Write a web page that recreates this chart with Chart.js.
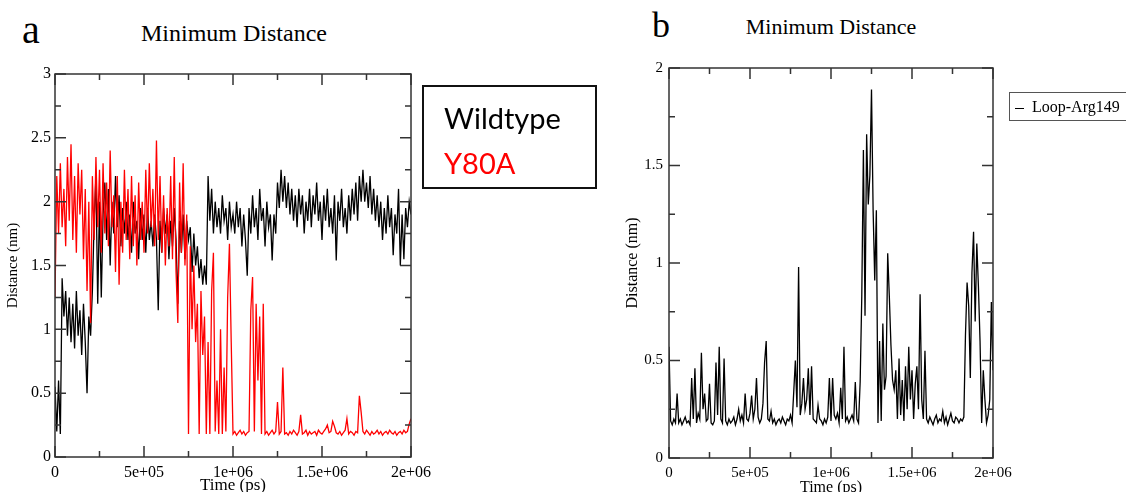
<!DOCTYPE html>
<html lang="en">
<head>
<meta charset="UTF-8" />
<title>Minimum Distance</title>
<script src="https://cdn.jsdelivr.net/npm/chart.js"></script>
<style>
  body { margin: 0; width: 1126px; height: 492px; background: #fff; position: relative; overflow: hidden;
         font-family: "Liberation Serif", "Times New Roman", serif; color: #000; }
  canvas { position: absolute; top: 0; }
  #chartA { left: 0; }
  #chartB { left: 610px; }
  .letter { position: absolute; line-height: 1; }
  .title { position: absolute; line-height: 1; white-space: nowrap; transform: translate(-50%, -50%); }
  #legendA { position: absolute; left: 422px; top: 85px; width: 171px; height: 100px; border: 2px solid #111;
             font-family: Lato, "Open Sans", sans-serif; font-size: 29px; line-height: 1; }
  #legendA div { position: absolute; left: 20px; }
  #legendB { position: absolute; left: 1009px; top: 92px; width: 150px; height: 27px; border: 1px solid #555;
             font-size: 16px; line-height: 27px; white-space: nowrap; }
  #legendB .dash { display: inline-block; width: 9px; border-top: 1px solid #000; vertical-align: middle; margin: 0 8px 0 5px; }
</style>
</head>
<body>
  <div class="letter" style="left:22px; top:10px; font-size:40px;">a</div>
  <div class="title" style="left:234px; top:33px; font-size:24px;">Minimum Distance</div>
  <div class="letter" style="left:652px; top:7px; font-size:36px;">b</div>
  <div class="title" style="left:831px; top:27px; font-size:22px;">Minimum Distance</div>

  <canvas id="chartA" width="440" height="492"></canvas>
  <canvas id="chartB" width="410" height="492"></canvas>

  <div id="legendA">
    <div style="top:16px;">Wildtype</div>
    <div style="top:61px; color:#ff0000;">Y80A</div>
  </div>
  <div id="legendB"><span class="dash"></span>Loop-Arg149</div>

<script>
// sampling grid of the trajectories (ps between frames)
const sampleStepPs = 10000;

// panel a: Wildtype (black) and Y80A (red), minimum distance in nm
const wildtype = [
  0.55, 0.2, 0.6, 0.18, 1.4, 1.1, 1.3, 0.95, 1.25, 0.9,
  1.2, 0.85, 1.3, 0.95, 1.15, 0.8, 1.2, 0.9, 0.5, 1.1,
  0.95, 1.3, 1.85, 2.2, 1.2, 2.0, 1.25, 1.9, 2.15, 1.7,
  2.1, 1.5, 2.0, 1.75, 2.2, 1.8, 2.05, 1.65, 1.95, 1.75,
  2.0, 1.7, 1.9, 1.6, 2.0, 1.75, 1.85, 1.55, 1.95, 1.7,
  1.9, 1.6, 1.95, 1.7, 1.85, 1.65, 1.9, 1.7, 1.15, 1.85,
  1.6, 1.95, 1.75, 1.9, 1.55, 1.85, 1.65, 1.95, 1.7, 1.2,
  1.85, 1.6, 1.9, 1.55, 1.85, 1.7, 1.8, 1.45, 1.75, 1.5,
  1.65, 1.4, 1.55, 1.35, 1.5, 1.35, 2.2, 1.85, 2.1, 1.75,
  2.0, 1.8, 1.95, 1.75, 2.05, 1.85, 1.95, 1.7, 2.0, 1.8,
  1.9, 1.75, 2.0, 1.8, 1.95, 1.65, 1.9, 1.7, 1.42, 1.95,
  1.75, 2.05, 1.8, 1.95, 1.7, 2.1, 1.85, 1.95, 1.65, 2.0,
  1.8, 1.9, 1.54, 1.9, 1.75, 2.15, 1.95, 2.25, 2.0, 2.2,
  1.95, 2.15, 1.9, 2.1, 1.85, 2.05, 1.8, 2.1, 1.9, 2.05,
  1.75, 2.0, 1.85, 2.1, 1.8, 2.05, 1.9, 2.15, 1.85, 2.0,
  1.7, 2.05, 1.85, 2.1, 1.8, 1.95, 1.75, 2.05, 1.54, 2.0,
  1.85, 2.1, 1.8, 1.95, 1.75, 2.05, 1.85, 2.1, 1.9, 2.15,
  1.85, 2.2, 2.0, 2.25, 2.0, 2.15, 1.95, 2.2, 1.9, 2.1,
  1.85, 2.05, 1.8, 2.0, 1.7, 1.95, 1.75, 2.05, 1.8, 1.95,
  1.58, 1.9, 1.75, 2.1, 1.5, 1.9, 1.55, 1.95, 1.8, 2.0,
  1.9
];

const y80a = [
  1.25, 2.2, 1.75, 2.3, 1.8, 2.1, 1.65, 2.35, 1.85, 2.45,
  1.7, 2.2, 1.6, 2.3, 1.9, 2.25, 1.55, 2.1, 1.3, 2.0,
  1.05, 2.2, 1.7, 2.35, 1.8, 2.25, 1.6, 2.3, 1.75, 2.15,
  1.65, 2.4, 1.8, 2.05, 1.45, 2.2, 1.35, 2.0, 1.6, 2.25,
  1.7, 2.1, 1.55, 2.2, 1.65, 2.05, 1.5, 2.15, 1.7, 2.0,
  1.6, 2.25, 1.75, 2.3, 1.8, 2.1, 1.65, 2.48, 1.7, 2.2,
  1.6, 2.05, 1.5, 1.95, 1.65, 2.2, 1.55, 2.35, 1.45, 1.05,
  2.15, 1.6, 2.3, 1.5, 1.9, 0.18, 1.65, 1.0, 1.5, 0.9,
  1.2, 0.18, 1.3, 0.8, 1.1, 0.18, 0.9, 0.18, 1.3, 1.6,
  0.2, 0.6, 0.18, 1.0, 0.18, 0.7, 0.2, 1.25, 1.67, 0.9,
  0.18, 0.2, 0.17, 0.19, 0.21, 0.18, 0.2, 0.17, 0.19, 0.2,
  1.15, 1.41, 0.2, 1.2, 0.6, 1.1, 0.18, 1.2, 0.18, 0.2,
  0.17, 0.19, 0.21, 0.18, 0.2, 0.43, 0.18, 0.2, 0.7, 0.18,
  0.19, 0.17, 0.2, 0.18, 0.21, 0.19, 0.17, 0.2, 0.33, 0.18,
  0.19, 0.21, 0.17, 0.2, 0.18, 0.19, 0.2, 0.17, 0.21, 0.19,
  0.18, 0.2, 0.22, 0.25, 0.19, 0.2, 0.28, 0.24, 0.19, 0.18,
  0.2, 0.17, 0.19, 0.21, 0.3, 0.18, 0.2, 0.19, 0.17, 0.2,
  0.19, 0.48, 0.35, 0.2, 0.18, 0.21, 0.19, 0.17, 0.2, 0.18,
  0.19, 0.21, 0.18, 0.2, 0.17, 0.19, 0.2, 0.18, 0.21, 0.19,
  0.18, 0.2, 0.17, 0.19, 0.2, 0.18, 0.21, 0.19, 0.2, 0.26,
  0.3
];

// panel b: Loop-Arg149
const loopArg149 = [
  0.57, 0.19, 0.17, 0.2, 0.18, 0.33, 0.18, 0.2, 0.17, 0.19,
  0.21, 0.18, 0.19, 0.17, 0.41, 0.2, 0.46, 0.18, 0.23, 0.2,
  0.54, 0.25, 0.33, 0.19, 0.2, 0.38, 0.18, 0.17, 0.19, 0.49,
  0.22, 0.57, 0.2, 0.18, 0.51, 0.19, 0.17, 0.2, 0.18, 0.19,
  0.21, 0.17, 0.2, 0.25, 0.19, 0.22, 0.18, 0.33, 0.2, 0.19,
  0.23, 0.32, 0.2, 0.25, 0.41, 0.21, 0.18, 0.2, 0.28, 0.49,
  0.6, 0.2, 0.19, 0.24, 0.18, 0.2, 0.17, 0.19, 0.2, 0.18,
  0.21, 0.19, 0.17, 0.2, 0.19, 0.22, 0.18, 0.34, 0.5, 0.26,
  0.98, 0.22, 0.28, 0.41, 0.25, 0.3, 0.46, 0.22, 0.47, 0.2,
  0.19, 0.18, 0.27, 0.2, 0.19, 0.17, 0.2, 0.18, 0.21, 0.41,
  0.19, 0.41, 0.22, 0.2, 0.23, 0.18, 0.36, 0.2, 0.57, 0.19,
  0.21, 0.18, 0.2, 0.22, 0.19, 0.39, 0.2, 0.18, 0.39, 0.83,
  1.58, 0.73, 1.66, 1.3, 1.45, 1.89, 1.27, 0.91, 1.27, 0.18,
  0.6, 0.19, 0.69, 0.35, 0.42, 1.05, 0.83, 0.58, 0.4, 0.35,
  0.45, 0.2, 0.51, 0.22, 0.4, 0.19, 0.47, 0.25, 0.57, 0.3,
  0.45, 0.2, 0.38, 0.47, 0.25, 0.84, 0.3, 0.2, 0.55, 0.2,
  0.18, 0.21, 0.19, 0.17, 0.2, 0.22, 0.18, 0.2, 0.19, 0.24,
  0.18, 0.21, 0.17, 0.2, 0.23, 0.19, 0.18, 0.21, 0.2, 0.18,
  0.2, 0.19, 0.21, 0.63, 0.9, 0.78, 0.41, 0.95, 1.16, 0.7,
  1.1, 0.88, 0.6, 0.18, 0.45, 0.3, 0.18, 0.22, 0.3, 0.8,
  0.45
];

// tick labels
const xTickValues = [0, 500000, 1000000, 1500000, 2000000];
const xTickLabels = ['0', '5e+05', '1e+06', '1.5e+06', '2e+06'];
const yTickValuesA = [0, 0.5, 1, 1.5, 2, 2.5, 3];
const yTickLabelsA = ['0', '0.5', '1', '1.5', '2', '2.5', '3'];
const yTickValuesB = [0, 0.5, 1, 1.5, 2];
const yTickLabelsB = ['0', '0.5', '1', '1.5', '2'];

const serif = '"Liberation Serif", "Times New Roman", serif';

function toPoints(values) {
  return values.map((v, i) => ({ x: i * sampleStepPs, y: v }));
}

// xmgrace style frame with inward ticks on all four sides
const frameTicks = {
  id: 'frameTicks',
  afterDraw(chart, args, opts) {
    const { ctx, chartArea: a, scales: { x, y } } = chart;
    ctx.save();
    ctx.strokeStyle = '#333';
    ctx.lineWidth = 1.5;
    ctx.strokeRect(a.left, a.top, a.right - a.left, a.bottom - a.top);
    ctx.beginPath();
    const nx = Math.round((x.max - x.min) / opts.xMinor);
    for (let k = 0; k <= nx; k++) {
      const px = x.getPixelForValue(x.min + k * opts.xMinor);
      const len = k % 2 === 0 ? opts.majorLen : opts.minorLen;
      ctx.moveTo(px, a.bottom); ctx.lineTo(px, a.bottom - len);
      ctx.moveTo(px, a.top); ctx.lineTo(px, a.top + len);
    }
    const ny = Math.round((y.max - y.min) / opts.yMinor);
    for (let k = 0; k <= ny; k++) {
      const py = y.getPixelForValue(y.min + k * opts.yMinor);
      const len = k % 2 === 0 ? opts.majorLen : opts.minorLen;
      ctx.moveTo(a.left, py); ctx.lineTo(a.left + len, py);
      ctx.moveTo(a.right, py); ctx.lineTo(a.right - len, py);
    }
    ctx.stroke();
    ctx.restore();
  }
};

function makeOptions(cfg) {
  return {
    responsive: false,
    animation: false,
    layout: { autoPadding: false, padding: { top: cfg.padTop, right: cfg.padRight, left: 0, bottom: 0 } },
    plugins: {
      legend: { display: false },
      tooltip: { enabled: false },
      frameTicks: { xMinor: 250000, yMinor: 0.25, majorLen: 11, minorLen: 6 }
    },
    elements: { point: { radius: 0 }, line: { tension: 0 } },
    scales: {
      x: {
        type: 'linear', min: 0, max: 2000000,
        afterFit: s => { s.height = cfg.xHeight; },
        grid: { display: false, drawTicks: false },
        border: { display: false },
        ticks: {
          stepSize: 500000, autoSkip: false, maxRotation: 0, padding: cfg.xTickPad, color: '#000',
          font: { family: serif, size: cfg.tickSize },
          callback: v => { const i = xTickValues.indexOf(v); return i < 0 ? '' : xTickLabels[i]; }
        },
        title: { display: true, text: 'Time (ps)', color: '#000', padding: 0,
                 font: { family: serif, size: cfg.xTitleSize, lineHeight: cfg.xTitleLH } }
      },
      y: {
        type: 'linear', min: 0, max: cfg.yMax,
        afterFit: s => { s.width = cfg.yWidth; },
        grid: { display: false, drawTicks: false },
        border: { display: false },
        ticks: {
          stepSize: 0.5, autoSkip: false, padding: cfg.yTickPad, color: '#000',
          font: { family: serif, size: cfg.tickSize },
          callback: v => { const i = cfg.yVals.indexOf(v); return i < 0 ? '' : cfg.yLabels[i]; }
        },
        title: { display: true, text: 'Distance (nm)', color: '#000', padding: { top: cfg.yTitlePad },
                 font: { family: serif, size: cfg.yTitleSize, lineHeight: 1 } }
      }
    }
  };
}

new Chart(document.getElementById('chartA'), {
  type: 'line',
  data: {
    datasets: [
      { label: 'Y80A', data: toPoints(y80a), borderColor: '#ff0000', borderWidth: 1.3 },
      { label: 'Wildtype', data: toPoints(wildtype), borderColor: '#000000', borderWidth: 1.3 }
    ]
  },
  options: makeOptions({
    padTop: 74, padRight: 29, xHeight: 35, yWidth: 55, yMax: 3,
    yVals: yTickValuesA, yLabels: yTickLabelsA,
    tickSize: 16, xTickPad: 6, yTickPad: 4,
    xTitleSize: 17, xTitleLH: 0.8, yTitleSize: 15, yTitlePad: 6
  }),
  plugins: [frameTicks]
});

new Chart(document.getElementById('chartB'), {
  type: 'line',
  data: {
    datasets: [
      { label: 'Loop-Arg149', data: toPoints(loopArg149), borderColor: '#000000', borderWidth: 1.3 }
    ]
  },
  options: makeOptions({
    padTop: 68, padRight: 27, xHeight: 34, yWidth: 59, yMax: 2,
    yVals: yTickValuesB, yLabels: yTickLabelsB,
    tickSize: 15, xTickPad: 6, yTickPad: 6,
    xTitleSize: 16, xTitleLH: 0.5, yTitleSize: 16, yTitlePad: 15
  }),
  plugins: [frameTicks]
});
</script>
</body>
</html>
